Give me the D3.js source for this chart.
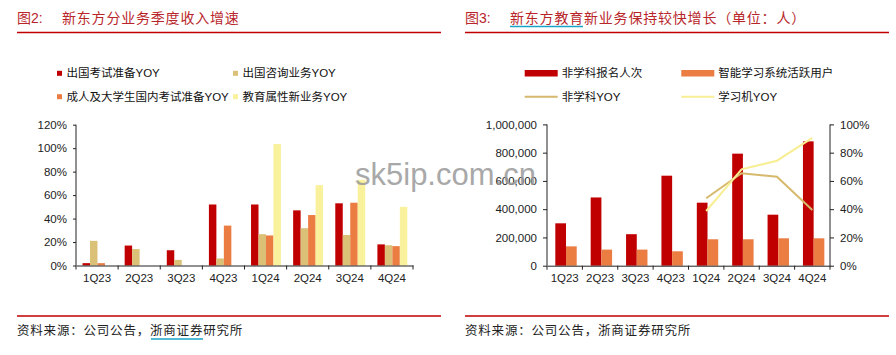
<!DOCTYPE html>
<html><head><meta charset="utf-8">
<script src="https://cdn.jsdelivr.net/npm/d3@7"></script>
<style>
body{margin:0;background:#fff;}
svg{display:block;}
text{font-family:"Liberation Sans","Noto Sans CJK SC",sans-serif;}
.cjk{font-family:"Liberation Sans","Noto Sans CJK SC",sans-serif;}
</style></head><body>
<svg id="c" width="896" height="355"></svg>
<script>
// ---------- data ----------
const quarters = ["1Q23","2Q23","3Q23","4Q23","1Q24","2Q24","3Q24","4Q24"];
// left chart (YoY, fraction)
const studyAbroadExam = [0.02,0.17,0.13,0.52,0.52,0.47,0.53,0.18];
const studyAbroadConsult = [0.21,0.14,0.048,0.06,0.267,0.318,0.26,0.173];
const domesticExam = [0.02,null,null,0.34,0.256,0.43,0.535,0.165];
const newBusiness = [null,null,null,null,1.035,0.685,0.73,0.50];
const leftSeriesNames = ["出国考试准备YOY","出国咨询业务YOY","成人及大学生国内考试准备YOY","教育属性新业务YOY"];
const leftTicks = [0,0.2,0.4,0.6,0.8,1.0,1.2];
// right chart
const nonAcademicEnroll = [300000,483000,223000,637000,446000,793000,361000,880000];
const smartLearningUsers = [137000,114000,114000,102000,187000,187000,194000,194000];
const nonAcademicYoY = [null,null,null,null,0.477,0.654,0.63,0.394];
const learningDeviceYoY = [null,null,null,null,0.387,0.682,0.743,0.904];
const rightTicksL = [0,200000,400000,600000,800000,1000000];
const rightTicksR = [0,0.2,0.4,0.6,0.8,1.0];
const rightSeriesNames = ["非学科报名人次","智能学习系统活跃用户","非学科YOY","学习机YOY"];

const C = {red:"#C00000", tan:"#DBC078", orange:"#EB7D43", yellow:"#F9F19C",
           lineTan:"#D6B96C", lineYellow:"#F8EE94", title:"#B8262B", rule:"#C00000"};

const svg = d3.select("#c");

// ---------- headers & footers ----------
function header(x0, x1, label, title){
  svg.append("text").attr("x", x0).attr("y", 23).attr("fill", C.title)
    .attr("font-size", 14).attr("font-family","'Noto Sans CJK SC',sans-serif").text(label);
  svg.append("text").attr("x", x0+45).attr("y", 23).attr("fill", C.title)
    .attr("font-size", 14).attr("letter-spacing", 0.8)
    .attr("font-family","'Noto Sans CJK SC',sans-serif").text(title);
  svg.append("line").attr("x1", x0).attr("x2", x1).attr("y1", 32.5).attr("y2", 32.5)
    .attr("stroke", C.rule).attr("stroke-width", 1.5);
  svg.append("line").attr("x1", x0).attr("x2", x1).attr("y1", 316).attr("y2", 316)
    .attr("stroke", C.rule).attr("stroke-width", 1.5);
  svg.append("text").attr("x", x0).attr("y", 335).attr("fill", "#222")
    .attr("font-size", 12.5).attr("letter-spacing", 0.8)
    .attr("font-family","'Noto Sans CJK SC',sans-serif").text("资料来源：公司公告，浙商证券研究所");
}
header(17, 441, "图2:", "新东方分业务季度收入增速");
header(465, 889, "图3:", "新东方教育新业务保持较快增长（单位：人）");
svg.append("line").attr("x1",510).attr("x2",583).attr("y1",26.5).attr("y2",26.5).attr("stroke","#1AA3C8").attr("stroke-width",1.5);
svg.append("line").attr("x1",151).attr("x2",203).attr("y1",339).attr("y2",339).attr("stroke","#1AA3C8").attr("stroke-width",1.5);

// ---------- left chart ----------
(function(){
  const x0 = d3.scaleBand().domain(quarters).range([76, 413]);
  const bw = x0.bandwidth();
  const keys = [0,1,2,3];
  const x1 = d3.scaleBand().domain(keys).range([bw*0.155, bw*0.865]);
  const y = d3.scaleLinear().domain([0,1.2]).range([265.5, 124.7]);
  const series = [studyAbroadExam, studyAbroadConsult, domesticExam, newBusiness];
  const colors = [C.red, C.tan, C.orange, C.yellow];
  const g = svg.append("g");
  series.forEach((s,k)=>{
    g.selectAll(null).data(quarters.map((q,i)=>({q, v:s[i]})).filter(d=>d.v!=null))
      .enter().append("rect")
      .attr("x", d=>x0(d.q)+x1(k)).attr("width", x1.bandwidth())
      .attr("y", d=>y(d.v)).attr("height", d=>y(0)-y(d.v)).attr("fill", colors[k]);
  });
  const ya = d3.axisLeft(y).tickValues(leftTicks).tickFormat(d3.format(".0%")).tickSize(3).tickPadding(6);
  const yg = svg.append("g").attr("transform","translate(76,0)").call(ya);
  const xa = d3.axisBottom(x0).tickSize(0).tickPadding(8);
  const xg = svg.append("g").attr("transform",`translate(0,${y(0)})`).call(xa);
  // boundary ticks
  svg.append("g").selectAll("line").data(d3.range(quarters.length+1)).enter().append("line")
    .attr("x1", i=>76+i*bw).attr("x2", i=>76+i*bw).attr("y1", y(0)).attr("y2", y(0)+4)
    .attr("stroke","#222");
  [yg,xg].forEach(a=>{a.selectAll("text").attr("font-size",11.5).attr("fill","#222").attr("font-family","'Liberation Sans',sans-serif");
    a.select(".domain").attr("stroke","#222"); a.selectAll(".tick line").attr("stroke","#222");});
  yg.select(".domain").attr("d", `M-0,${y(1.2)}V${y(0)}`);
  // legend
  const pos = [[57,73.3],[233,73.3],[57,96.7],[233,96.7]];
  leftSeriesNames.forEach((n,k)=>{
    svg.append("rect").attr("x",pos[k][0]).attr("y",pos[k][1]-2.5).attr("width",5).attr("height",5).attr("fill",colors[k]);
    svg.append("text").attr("x",pos[k][0]+9.5).attr("y",pos[k][1]+4).attr("font-size",11.5).attr("fill","#111").text(n);
  });
})();

// ---------- right chart ----------
(function(){
  const x0 = d3.scaleBand().domain(quarters).range([547, 830]);
  const bw = x0.bandwidth();
  const x1 = d3.scaleBand().domain([0,1]).range([bw*0.235, bw*0.84]);
  const yL = d3.scaleLinear().domain([0,1000000]).range([265.7, 124.4]);
  const yR = d3.scaleLinear().domain([0,1]).range([265.7, 124.4]);
  const bars = [nonAcademicEnroll, smartLearningUsers];
  const colors = [C.red, C.orange];
  bars.forEach((s,k)=>{
    svg.append("g").selectAll("rect").data(quarters.map((q,i)=>({q,v:s[i]}))).enter().append("rect")
      .attr("x", d=>x0(d.q)+x1(k)).attr("width", x1.bandwidth())
      .attr("y", d=>yL(d.v)).attr("height", d=>yL(0)-yL(d.v)).attr("fill", colors[k]);
  });
  const lines = [nonAcademicYoY, learningDeviceYoY];
  const lcol = [C.lineTan, C.lineYellow];
  lines.forEach((s,k)=>{
    const ln = d3.line().defined(d=>d.v!=null).x(d=>x0(d.q)+bw/2).y(d=>yR(d.v));
    svg.append("path").datum(quarters.map((q,i)=>({q,v:s[i]}))).attr("d", ln)
      .attr("fill","none").attr("stroke", lcol[k]).attr("stroke-width", 2);
  });
  const yaL = d3.axisLeft(yL).tickValues(rightTicksL).tickFormat(d3.format(",")).tickSize(4).tickPadding(6);
  const yaR = d3.axisRight(yR).tickValues(rightTicksR).tickFormat(d3.format(".0%")).tickSize(4).tickPadding(6);
  const gL = svg.append("g").attr("transform","translate(547,0)").call(yaL);
  const gR = svg.append("g").attr("transform","translate(830,0)").call(yaR);
  const gX = svg.append("g").attr("transform",`translate(0,${yL(0)})`).call(d3.axisBottom(x0).tickSize(0).tickPadding(8));
  svg.append("g").selectAll("line").data(d3.range(quarters.length+1)).enter().append("line")
    .attr("x1", i=>547+i*bw).attr("x2", i=>547+i*bw).attr("y1", yL(0)).attr("y2", yL(0)+4)
    .attr("stroke","#222");
  [gL,gR,gX].forEach(a=>{a.selectAll("text").attr("font-size",11.5).attr("fill","#222").attr("font-family","'Liberation Sans',sans-serif");
    a.select(".domain").attr("stroke","#222"); a.selectAll(".tick line").attr("stroke","#222");});
  gL.select(".domain").attr("d", `M0,${yL(1000000)}V${yL(0)}`);
  gR.select(".domain").attr("d", `M0,${yR(1)}V${yR(0)}`);
  // legend
  const pos = [[524.7,73.3],[681.3,73.3],[524.7,96.7],[681.3,96.7]];
  rightSeriesNames.forEach((n,k)=>{
    if(k<2){
      svg.append("rect").attr("x",pos[k][0]).attr("y",pos[k][1]-3.3).attr("width",33).attr("height",6.5).attr("fill",colors[k]);
    } else {
      svg.append("line").attr("x1",pos[k][0]).attr("x2",pos[k][0]+33).attr("y1",pos[k][1]).attr("y2",pos[k][1])
        .attr("stroke",lcol[k-2]).attr("stroke-width",2);
    }
    svg.append("text").attr("x",pos[k][0]+37).attr("y",pos[k][1]+4).attr("font-size",11.5).attr("fill","#111").text(n);
  });
})();

// ---------- watermark ----------
svg.append("text").attr("x",355).attr("y",185).attr("font-size",31).attr("fill","#9a9a9a").attr("opacity",0.85)
  .attr("font-family","'Liberation Sans',sans-serif").text("sk5ip.com.cn");
</script>
</body></html>
